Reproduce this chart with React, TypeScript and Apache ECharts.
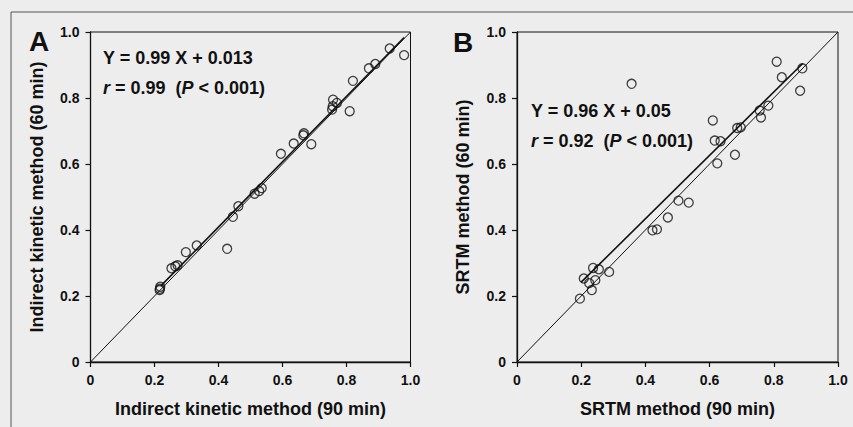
import React, { useEffect, useRef } from 'react';
import * as echarts from 'echarts';

// Panel A: Indirect kinetic method, 90 min (x) vs 60 min (y)
const xA = [0.98, 0.935, 0.89, 0.87, 0.82, 0.81, 0.758, 0.77, 0.755, 0.757, 0.69, 0.667, 0.665, 0.635, 0.595, 0.535, 0.527, 0.513, 0.462, 0.445, 0.427, 0.332, 0.298, 0.272, 0.265, 0.253, 0.218, 0.217, 0.216];
const yA = [0.93, 0.95, 0.903, 0.89, 0.852, 0.76, 0.795, 0.785, 0.765, 0.775, 0.66, 0.693, 0.687, 0.662, 0.631, 0.527, 0.518, 0.51, 0.472, 0.44, 0.343, 0.353, 0.333, 0.293, 0.29, 0.284, 0.228, 0.222, 0.218];
// Panel B: SRTM method, 90 min (x) vs 60 min (y)
const xB = [0.357, 0.809, 0.825, 0.882, 0.889, 0.783, 0.756, 0.76, 0.61, 0.686, 0.697, 0.616, 0.634, 0.679, 0.624, 0.503, 0.535, 0.47, 0.422, 0.436, 0.237, 0.255, 0.287, 0.208, 0.244, 0.225, 0.233, 0.196];
const yB = [0.843, 0.91, 0.863, 0.822, 0.89, 0.777, 0.762, 0.741, 0.732, 0.709, 0.711, 0.671, 0.669, 0.628, 0.602, 0.489, 0.483, 0.438, 0.399, 0.402, 0.285, 0.281, 0.273, 0.253, 0.248, 0.239, 0.218, 0.192];

// Regression: [slope, intercept], x-range drawn
const regA = [0.99, 0.013];
const regARange = [0.22, 0.98];
const regB = [0.96, 0.05];
const regBRange = [0.2, 0.89];
const identity = [0, 1];

const tickValues = [0, 0.2, 0.4, 0.6, 0.8, 1.0];
const tickLabels = ['0', '0.2', '0.4', '0.6', '0.8', '1.0'];

const FONT = '"Liberation Sans", Arial, sans-serif';

function fmt(v: number) {
  const i = tickValues.findIndex((t) => Math.abs(t - v) < 1e-6);
  return i >= 0 ? tickLabels[i] : '';
}

function axisCommon(name: string, gi: number, isX: boolean) {
  return {
    type: 'value',
    gridIndex: gi,
    min: 0,
    max: 1,
    interval: 0.2,
    name,
    nameLocation: 'middle',
    nameGap: isX ? 38 : 45,
    nameTextStyle: { fontFamily: FONT, fontWeight: 'bold', fontSize: 18, color: '#111' },
    axisLine: { show: true, onZero: false, lineStyle: { color: '#111', width: 1.3 } },
    axisTick: { show: true, inside: false, length: 5, lineStyle: { color: '#111', width: 1.2 } },
    axisLabel: { formatter: fmt, margin: 11, fontFamily: FONT, fontWeight: 'bold', fontSize: 14, color: '#111' },
    splitLine: { show: false },
  };
}

function scatter(xs: number[], ys: number[], gi: number) {
  return {
    type: 'scatter',
    xAxisIndex: gi,
    yAxisIndex: gi,
    symbol: 'circle',
    symbolSize: 9,
    itemStyle: { color: 'rgba(0,0,0,0)', borderColor: '#111', borderWidth: 1.3 },
    data: xs.map((x, i) => [x, ys[i]]),
    z: 5,
  };
}

function line(points: number[][], gi: number, width: number) {
  return {
    type: 'line',
    xAxisIndex: gi,
    yAxisIndex: gi,
    showSymbol: false,
    symbol: 'none',
    lineStyle: { color: '#111', width },
    data: points,
    z: 3,
  };
}

function regLine(reg: number[], range: number[]) {
  return range.map((x) => [x, reg[0] * x + reg[1]]);
}

export default function App() {
  const ref = useRef<HTMLDivElement>(null);
  useEffect(() => {
    if (!ref.current) return;
    const chart = echarts.init(ref.current, null, { renderer: 'svg' });
    const eqRich = {
      b: { fontFamily: FONT, fontWeight: 'bold', fontSize: 18, fill: '#111' },
      i: { fontFamily: FONT, fontWeight: 'bold', fontStyle: 'italic', fontSize: 18, fill: '#111' },
    } as any;
    chart.setOption({
      animation: false,
      backgroundColor: '#ededed',
      grid: [
        { left: 90.5, top: 32, width: 320, height: 330, show: true, borderColor: '#111', borderWidth: 1, backgroundColor: 'transparent' },
        { left: 517, top: 32, width: 321, height: 330, show: true, borderColor: '#111', borderWidth: 1, backgroundColor: 'transparent' },
      ],
      xAxis: [
        axisCommon('Indirect kinetic method (90 min)', 0, true),
        axisCommon('SRTM method (90 min)', 1, true),
      ],
      yAxis: [
        axisCommon('Indirect kinetic method (60 min)', 0, false),
        axisCommon('SRTM method (60 min)', 1, false),
      ],
      series: [
        line(identity.map((v) => [v, v]), 0, 1),
        line(regLine(regA, regARange), 0, 1.6),
        scatter(xA, yA, 0),
        line(identity.map((v) => [v, v]), 1, 1),
        line(regLine(regB, regBRange), 1, 1.6),
        scatter(xB, yB, 1),
      ],
      graphic: [
        { type: 'rect', shape: { x: 11, y: 12, width: 900, height: 500 }, style: { fill: 'none', stroke: '#555', lineWidth: 1 }, silent: true },
        { type: 'text', x: 39, y: 41, style: { text: 'A', fontFamily: FONT, fontWeight: 'bold', fontSize: 28, fill: '#111', align: 'center', verticalAlign: 'middle' } },
        { type: 'text', x: 463, y: 42, style: { text: 'B', fontFamily: FONT, fontWeight: 'bold', fontSize: 28, fill: '#111', align: 'center', verticalAlign: 'middle' } },
        { type: 'text', x: 103, y: 58, style: { text: '{b|Y = 0.99 X + 0.013}', rich: eqRich, verticalAlign: 'middle' } },
        { type: 'text', x: 103, y: 88, style: { text: '{i|r}{b| = 0.99  (}{i|P}{b| < 0.001)}', rich: eqRich, verticalAlign: 'middle' } },
        { type: 'text', x: 531, y: 111, style: { text: '{b|Y = 0.96 X + 0.05}', rich: eqRich, verticalAlign: 'middle' } },
        { type: 'text', x: 531, y: 141, style: { text: '{i|r}{b| = 0.92  (}{i|P}{b| < 0.001)}', rich: eqRich, verticalAlign: 'middle' } },
      ],
    });
    return () => chart.dispose();
  }, []);
  return <div ref={ref} style={{ position: 'fixed', left: 0, top: 0, width: 853, height: 427 }} />;
}
